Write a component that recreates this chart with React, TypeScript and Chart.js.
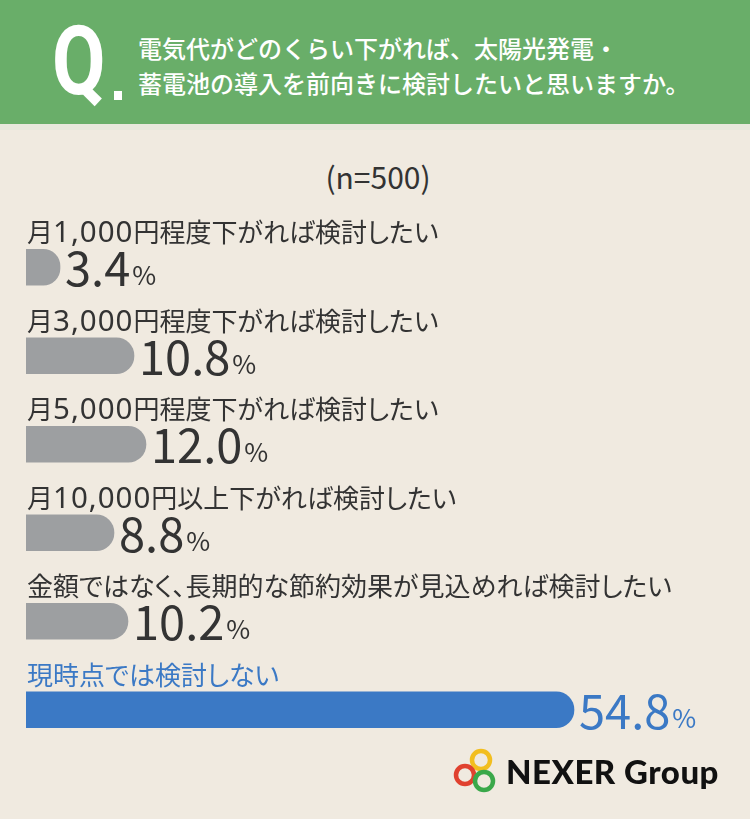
import React, { useEffect, useRef, useState } from "react";
import { Chart, registerables } from "chart.js";

Chart.register(...registerables);

const questionLines = [
  "電気代がどのくらい下がれば、太陽光発電・",
  "蓄電池の導入を前向きに検討したいと思いますか。",
];
const sampleNote = "(n=500)";
const categories = [
  "月1,000円程度下がれば検討したい",
  "月3,000円程度下がれば検討したい",
  "月5,000円程度下がれば検討したい",
  "月10,000円以上下がれば検討したい",
  "金額ではなく、長期的な節約効果が見込めれば検討したい",
  "現時点では検討しない",
];
const values = [3.4, 10.8, 12.0, 8.8, 10.2, 54.8];
const highlightIndex = 5;

const BG = "#f0eae0";
const GREEN = "#69ae69";
const GRAY = "#9d9fa1";
const BLUE = "#3b79c5";
const TEXT = "#333333";
const JP = '"Noto Sans CJK JP", "Noto Sans", sans-serif';

const valuePlugin = {
  id: "valueLabels",
  afterDatasetsDraw(chart: any) {
    const ctx = chart.ctx;
    const meta = chart.getDatasetMeta(0);
    ctx.save();
    meta.data.forEach((bar: any, i: number) => {
      const hl = i === highlightIndex;
      const half = bar.height / 2;
      ctx.fillStyle = hl ? BLUE : TEXT;
      ctx.textBaseline = "alphabetic";
      ctx.textAlign = "left";
      const num = values[i].toFixed(1);
      ctx.font = `400 47px ${JP}`;
      const x0 = bar.x + 5;
      const yb = bar.y + half + 1;
      ctx.fillText(num, x0, yb);
      const w = ctx.measureText(num).width;
      ctx.font = `400 26px ${JP}`;
      ctx.fillText("%", x0 + w + 2, yb - 1);
    });
    ctx.restore();
  },
};

function Label({ text, color, left, top }: { text: string; color: string; left: number; top: number }) {
  const runs = text.match(/[0-9,]+|[^0-9,]+/g) || [];
  return (
    <div
      style={{
        position: "absolute",
        left,
        top,
        height: 34,
        display: "flex",
        alignItems: "baseline",
        whiteSpace: "nowrap",
        color,
        fontFamily: JP,
        fontSize: 26,
        lineHeight: "34px",
        fontFeatureSettings: '"palt"',
      }}
    >
      {runs.map((r, k) =>
        /^[0-9,]+$/.test(r) ? (
          <span key={k} style={{ fontFamily: '"Noto Sans", sans-serif', fontSize: 29.5, letterSpacing: 1 }}>
            {r}
          </span>
        ) : (
          <span key={k}>{r}</span>
        )
      )}
    </div>
  );
}

function BarChart() {
  const ref = useRef<HTMLCanvasElement>(null);
  const [pos, setPos] = useState<{ x: number; y: number; left: number }[]>([]);
  useEffect(() => {
    if (!ref.current) return;
    const chart = new Chart(ref.current, {
      type: "bar",
      data: {
        labels: categories,
        datasets: [
          {
            data: values,
            backgroundColor: values.map((_, i) => (i === highlightIndex ? BLUE : GRAY)),
            borderWidth: 0,
            borderSkipped: "start",
            borderRadius: { topLeft: 0, bottomLeft: 0, topRight: 18, bottomRight: 18 },
            barThickness: 36,
          },
        ],
      },
      options: {
        indexAxis: "y",
        animation: false,
        responsive: false,
        maintainAspectRatio: false,
        layout: { padding: { left: 26, right: 124, top: 223, bottom: 65 } },
        scales: {
          x: { display: false, min: 0, max: 60, grid: { display: false } },
          y: { display: false, grid: { display: false } },
        },
        plugins: { legend: { display: false }, tooltip: { enabled: false } },
      },
      plugins: [valuePlugin],
    } as any);
    const meta = chart.getDatasetMeta(0);
    setPos(meta.data.map((b: any) => ({ x: b.x, y: b.y, left: chart.chartArea.left })));
    return () => chart.destroy();
  }, []);
  return (
    <>
      <canvas
        ref={ref}
        width={750}
        height={819}
        style={{ position: "absolute", left: 0, top: 0, width: 750, height: 819 }}
      />
      {pos.map((p, i) => (
        <Label
          key={i}
          text={categories[i]}
          color={i === highlightIndex ? BLUE : TEXT}
          left={p.left + 1}
          top={p.y - 53}
        />
      ))}
    </>
  );
}

function Logo() {
  return (
    <div style={{ position: "absolute", left: 452, top: 748, display: "flex", alignItems: "center" }}>
      <svg width="48" height="46" viewBox="0 0 48 46">
        <circle cx="29" cy="12" r="9" fill="none" stroke="#f2be1f" strokeWidth="4.5" />
        <circle cx="13" cy="27" r="9" fill="none" stroke="#e0412f" strokeWidth="4.5" />
        <circle cx="32" cy="33" r="9" fill="none" stroke="#3aa84a" strokeWidth="4.5" />
      </svg>
      <span
        style={{
          fontFamily: "Lato, Inter, sans-serif",
          fontWeight: 900,
          fontSize: 33,
          color: "#111",
          marginLeft: 6,
          letterSpacing: 0.5,
        }}
      >
        NEXER Group
      </span>
    </div>
  );
}

export default function App() {
  useEffect(() => {
    document.body.style.margin = "0";
  }, []);
  return (
    <div style={{ position: "absolute", left: 0, top: 0, width: 750, height: 819, background: BG, overflow: "hidden" }}>
      <div style={{ position: "absolute", left: 0, top: 0, width: 750, height: 124, background: GREEN }} />
      <div style={{ position: "absolute", left: 0, top: 124, width: 750, height: 6, background: "#e8e8dc" }} />
      <div
        style={{
          position: "absolute",
          left: 52,
          top: 6,
          color: "#fff",
          fontFamily: "Roboto, sans-serif",
          fontWeight: 700,
          fontSize: 97,
          lineHeight: "110px",
          transform: "scaleX(0.8)",
          transformOrigin: "left top",
        }}
      >
        Q
      </div>
      <div style={{ position: "absolute", left: 114, top: 91, width: 8, height: 9, background: "#fff" }} />
      <div
        style={{
          position: "absolute",
          left: 138,
          top: 30,
          color: "#fff",
          fontFamily: JP,
          fontWeight: 500,
          fontSize: 24,
          lineHeight: "35px",
          whiteSpace: "nowrap",
        }}
      >
        {questionLines.map((l, i) => (
          <div key={i}>{l}</div>
        ))}
      </div>
      <div
        style={{
          position: "absolute",
          left: 0,
          width: 756,
          top: 156,
          textAlign: "center",
          fontFamily: JP,
          fontSize: 30,
          color: TEXT,
          lineHeight: "40px",
        }}
      >
        {sampleNote}
      </div>
      <BarChart />
      <Logo />
    </div>
  );
}
